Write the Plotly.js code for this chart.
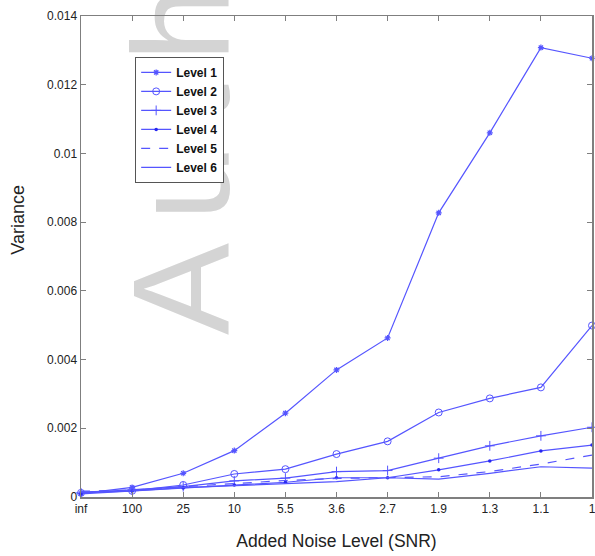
<!DOCTYPE html>
<html>
<head>
<meta charset="utf-8">
<script src="https://cdn.plot.ly/plotly-3.0.1.min.js"></script>
<style>html,body{margin:0;padding:0;background:#fff;}#chart{width:595px;height:556px;}</style>
</head>
<body>
<div id="chart"></div>
<script>
var categories = ["inf", "100", "25", "10", "5.5", "3.6", "2.7", "1.9", "1.3", "1.1", "1"];
var level1 = [0.00010, 0.00028, 0.00069, 0.00135, 0.00244, 0.00370, 0.00463, 0.00827, 0.01060, 0.01308, 0.01277];
var level2 = [0.00012, 0.00018, 0.00035, 0.00067, 0.00081, 0.00125, 0.00162, 0.00246, 0.00287, 0.00319, 0.00499];
var level3 = [0.00012, 0.00020, 0.00030, 0.00047, 0.00055, 0.00074, 0.00077, 0.00113, 0.00149, 0.00178, 0.00203];
var level4 = [0.00009, 0.00017, 0.00026, 0.00035, 0.00043, 0.00056, 0.00056, 0.00079, 0.00105, 0.00134, 0.00151];
var level5 = [0.00017, 0.00020, 0.00030, 0.00040, 0.00048, 0.00054, 0.00056, 0.00059, 0.00074, 0.00096, 0.00122];
var level6 = [0.00015, 0.00018, 0.00027, 0.00033, 0.00040, 0.00045, 0.00056, 0.00052, 0.00069, 0.00088, 0.00084];
var seriesNames = ["Level 1", "Level 2", "Level 3", "Level 4", "Level 5", "Level 6"];
var yTickVals = [0, 0.002, 0.004, 0.006, 0.008, 0.010, 0.012, 0.014];
var yTickText = ["0", "0.002", "0.004", "0.006", "0.008", "0.01", "0.012", "0.014"];

var FONT = "Arial, Liberation Sans, sans-serif";
var blue = "rgb(85,85,255)";
var xIdx = categories.map(function(c, i){ return i; });
function tr(name, y, mode, marker, dash) {
  return {
    x: xIdx, y: y, name: name, type: "scatter", mode: mode,
    line: {color: blue, width: 1.2, dash: dash || "solid"},
    marker: marker || {},
    cliponaxis: false
  };
}
var data = [
  tr(seriesNames[0], level1, "lines+markers", {symbol: "asterisk-open", size: 5, color: blue, line: {color: blue, width: 1.2}}),
  tr(seriesNames[1], level2, "lines+markers", {symbol: "circle-open", size: 7, color: blue, line: {color: blue, width: 1}}),
  tr(seriesNames[2], level3, "lines+markers", {symbol: "cross-thin-open", size: 7, color: blue, line: {color: blue, width: 1}}),
  tr(seriesNames[3], level4, "lines+markers", {symbol: "circle", size: 3.5, color: "rgb(40,40,240)"}),
  tr(seriesNames[4], level5, "lines", null, "dash"),
  tr(seriesNames[5], level6, "lines")
];

var axisCommon = {
  showline: true, linecolor: "#7f7f7f", linewidth: 1.5, mirror: "allticks",
  ticks: "inside", ticklen: 5, tickcolor: "#7f7f7f", tickwidth: 1,
  showgrid: false, zeroline: false, ticklabeloverflow: "allow",
  tickfont: {family: FONT, size: 12, color: "#222"}
};

var WM_SPACING = 22;
var layout = {
  width: 595, height: 556,
  margin: {l: 81, r: 3, t: 16, b: 59},
  paper_bgcolor: "#fff", plot_bgcolor: "#fff",
  showlegend: true,
  legend: {
    x: 0.106, y: 0.915, xanchor: "left", yanchor: "top",
    bgcolor: "#fff", bordercolor: "#555", borderwidth: 1,
    font: {family: FONT, size: 12, color: "#111", weight: "bold"},
    tracegroupgap: 0, itemwidth: 30
  },
  xaxis: Object.assign({}, axisCommon, {
    range: [0, 10], tickmode: "array", tickvals: xIdx, ticktext: categories,
    title: {text: "Added Noise Level (SNR)", font: {family: FONT, size: 17.5, color: "#222"}, standoff: 20}
  }),
  yaxis: Object.assign({}, axisCommon, {
    range: [0, 0.014], tickmode: "array", tickvals: yTickVals, ticktext: yTickText
  }),
  annotations: [{
    xref: "paper", yref: "paper", x: 0.1945, y: 0.3326, yshift: 3 * WM_SPACING, xanchor: "center", yanchor: "bottom",
    text: "Author", textangle: -90, showarrow: false,
    font: {family: FONT, size: 138, color: "#d4d4d4"}
  }, {
    xref: "paper", yref: "paper", x: -0.125, y: 0.5, yshift: 37, xanchor: "center", yanchor: "middle",
    text: "Variance", textangle: -90, showarrow: false,
    font: {family: FONT, size: 18, color: "#222"}
  }]
};

Plotly.newPlot("chart", data, layout, {displayModeBar: false, staticPlot: true}).then(function(gd){
  // put the watermark underneath the plot contents and the legend
  var wm = gd.querySelectorAll('.annotation')[0];
  var paper = gd.querySelector('.main-svg');
  var cart = paper.querySelector('.cartesianlayer');
  if (wm) {
    var t = wm.querySelector('text');
    if (t) t.style.letterSpacing = WM_SPACING + 'px';
    var bg = wm.querySelector('rect');
    if (cart) cart.parentNode.insertBefore(wm, cart);
  }
});
</script>
</body>
</html>
